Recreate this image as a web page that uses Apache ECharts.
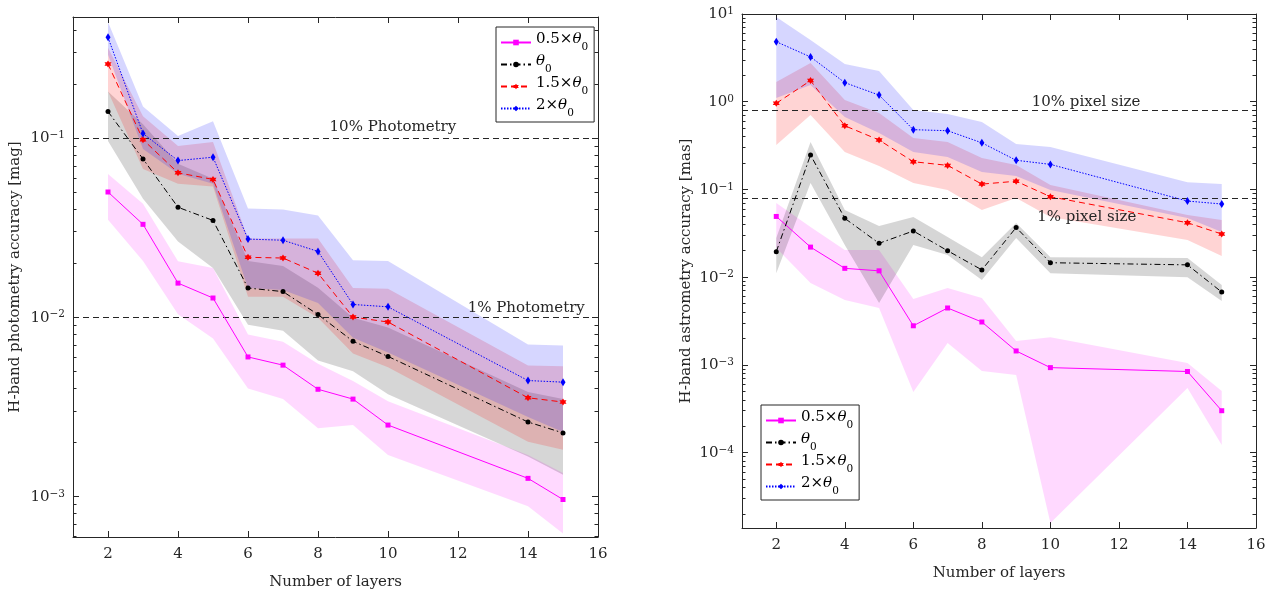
<!DOCTYPE html>
<html><head><meta charset="utf-8">
<script src="https://cdn.jsdelivr.net/npm/echarts@6/dist/echarts.min.js"></script>
<style>html,body{margin:0;padding:0;background:#fff}#c{width:1279px;height:595px}</style>
</head><body><div id="c"></div>
<script>
// ---------------- data ----------------
const layers = [2, 3, 4, 5, 6, 7, 8, 9, 10, 14, 15];
const seriesNames = ['0.5×θ0', 'θ0', '1.5×θ0', '2×θ0'];
const xTicks = [2, 4, 6, 8, 10, 12, 14, 16];
const photDecades = [-3, -2, -1];
const astroDecades = [-4, -3, -2, -1, 0, 1];

// H-band photometry accuracy [mag]
const phot05   = [0.050, 0.033, 0.0155, 0.0128, 0.0060, 0.0054, 0.00396, 0.00349, 0.0025, 0.00126, 0.00096];
const phot05Hi = [0.063, 0.043, 0.0205, 0.0188, 0.0080, 0.0073, 0.0055, 0.0044, 0.0034, 0.0017, 0.00135];
const phot05Lo = [0.035, 0.0206, 0.0104, 0.0076, 0.0040, 0.0035, 0.0024, 0.0025, 0.0017, 0.00088, 0.00062];
const phot10   = [0.1406, 0.0765, 0.0411, 0.0347, 0.01455, 0.0139, 0.01035, 0.00734, 0.00604, 0.0026, 0.00226];
const phot10Hi = [0.182, 0.1196, 0.0718, 0.0593, 0.0206, 0.0193, 0.0146, 0.00993, 0.00875, 0.00382, 0.00349];
const phot10Lo = [0.0962, 0.0459, 0.0265, 0.0188, 0.00908, 0.00841, 0.00574, 0.00499, 0.00372, 0.00167, 0.00132];
const phot15   = [0.259, 0.098, 0.064, 0.0588, 0.0216, 0.0214, 0.0176, 0.01002, 0.0094, 0.00355, 0.00336];
const phot15Hi = [0.319, 0.1324, 0.0903, 0.095, 0.0275, 0.0275, 0.0275, 0.01456, 0.0144, 0.00538, 0.00532];
const phot15Lo = [0.182, 0.0673, 0.0556, 0.0536, 0.0130, 0.0130, 0.00993, 0.00628, 0.00525, 0.00202, 0.00182];
const phot20   = [0.365, 0.106, 0.0749, 0.0782, 0.0273, 0.0269, 0.0233, 0.01178, 0.01143, 0.00443, 0.00434];
const phot20Hi = [0.445, 0.150, 0.1026, 0.124, 0.0405, 0.0399, 0.037, 0.0208, 0.0206, 0.00705, 0.00695];
const phot20Lo = [0.292, 0.0869, 0.0633, 0.0556, 0.01456, 0.0142, 0.0120, 0.00769, 0.00635, 0.00277, 0.00229];
const photRefLines = [0.1, 0.01];
const photNotes = ['10% Photometry', '1% Photometry'];

// H-band astrometry accuracy [mas]
const astro05   = [0.0492, 0.022, 0.0126, 0.0118, 0.00279, 0.00445, 0.00308, 0.00144, 0.00093, 0.00084, 0.0003];
const astro05Hi = [0.070, 0.0373, 0.0204, 0.0204, 0.00563, 0.0075, 0.00578, 0.00187, 0.00207, 0.00105, 0.000503];
const astro05Lo = [0.0215, 0.00857, 0.00548, 0.00445, 0.00049, 0.00177, 0.00085, 0.000765, 0.0000157, 0.000544, 0.000122];
const astro10   = [0.0195, 0.247, 0.0468, 0.0243, 0.0336, 0.020, 0.0121, 0.0368, 0.0146, 0.0138, 0.00676];
const astro10Hi = [0.0279, 0.347, 0.0582, 0.0383, 0.0484, 0.0286, 0.0169, 0.0414, 0.0169, 0.0165, 0.00813];
const astro10Lo = [0.0111, 0.118, 0.0232, 0.00507, 0.0232, 0.0179, 0.00927, 0.0279, 0.0111, 0.0100, 0.00534];
const astro15   = [0.96, 1.74, 0.532, 0.366, 0.207, 0.188, 0.115, 0.124, 0.0826, 0.0417, 0.031];
const astro15Hi = [1.68, 2.76, 1.046, 0.743, 0.386, 0.347, 0.228, 0.19, 0.112, 0.051, 0.0448];
const astro15Lo = [0.321, 0.705, 0.267, 0.185, 0.118, 0.0984, 0.0582, 0.0798, 0.0484, 0.0265, 0.0174];
const astro20   = [4.83, 3.24, 1.65, 1.19, 0.48, 0.467, 0.34, 0.215, 0.193, 0.0737, 0.0682];
const astro20Hi = [9.25, 5.05, 2.69, 2.24, 0.804, 0.724, 0.587, 0.33, 0.304, 0.121, 0.115];
const astro20Lo = [1.10, 1.55, 0.67, 0.44, 0.267, 0.234, 0.158, 0.142, 0.0984, 0.0472, 0.0327];
const astroRefLines = [0.8, 0.08];
const astroNotes = ['10% pixel size', '1% pixel size'];

// ---------------- styles / layout ----------------
const FONT = 'DejaVu Serif';
const AX = '#262626';
const lineColors = ['#FF00FF', '#000000', '#FF0000', '#0000FF'];
const bandColors = ['rgba(255,0,255,0.15)', 'rgba(0,0,0,0.16)', 'rgba(255,0,0,0.17)', 'rgba(0,0,255,0.16)'];
const lineTypes = ['solid', [6, 3, 1.5, 3], [6, 4], [1.5, 1.5]];
const HEX = 'path://M0,-10L2.9,-5L8.66,-5L5.8,0L8.66,5L2.9,5L0,10L-2.9,5L-8.66,5L-5.8,0L-8.66,-5L-2.9,-5Z';
const symbols = ['rect', 'circle', HEX, 'diamond'];
const symbolSizes = [5, 5, 7, [5, 8]];

const L = Math.log10;
const panels = [
  { grid: { left: 73, top: 17, width: 525, height: 524 }, yMin: -3.227, yMax: -0.324, decades: photDecades,
    yName: 'H-band photometry accuracy [mag]', yNameGap: 50,
    lines: [phot05, phot10, phot15, phot20], his: [phot05Hi, phot10Hi, phot15Hi, phot20Hi], los: [phot05Lo, phot10Lo, phot15Lo, phot20Lo],
    refs: photRefLines, notes: photNotes, noteAt: [[10.14, -0.939], [13.95, -1.95]],
    legend: { left: 496, top: 27 } },
  { grid: { left: 742, top: 14, width: 514, height: 514 }, yMin: -4.86, yMax: 1, decades: astroDecades,
    yName: 'H-band astrometry accuracy [mas]', yNameGap: 48,
    lines: [astro05, astro10, astro15, astro20], his: [astro05Hi, astro10Hi, astro15Hi, astro20Hi], los: [astro05Lo, astro10Lo, astro15Lo, astro20Lo],
    refs: astroRefLines, notes: astroNotes, noteAt: [[11.04, -0.01], [11.06, -1.32]],
    legend: { left: 761, top: 405 } }
];

function decadeLabel(v) {
  const e = Math.round(v);
  return '{b|10}{p|' + (e < 0 ? '−' : '') + Math.abs(e) + '}';
}
const tickRich = {
  b: { fontFamily: FONT, fontSize: 15, color: '#262626', lineHeight: 16, verticalAlign: 'bottom' },
  p: { fontFamily: FONT, fontSize: 10.5, color: '#262626', lineHeight: 11, verticalAlign: 'top' }
};
const nameRich = {
  t: { fontFamily: FONT, fontSize: 15, color: '#000', lineHeight: 21, verticalAlign: 'top' },
  i: { fontFamily: FONT, fontSize: 15, fontStyle: 'italic', color: '#000', lineHeight: 21, verticalAlign: 'top' },
  s: { fontFamily: FONT, fontSize: 10.5, color: '#000', lineHeight: 11, verticalAlign: 'bottom' }
};
function legendLabel(n) {
  const k = seriesNames.indexOf(n);
  const pre = ['0.5×', '', '1.5×', '2×'][k];
  return (pre ? '{t|' + pre + '}' : '') + '{i|θ}{s|0}';
}

function bandRenderer(hiArr, loArr, fill) {
  return function (params, api) {
    if (params.dataIndex !== 0) return null;
    const up = layers.map((x, i) => api.coord([x, L(hiArr[i])]));
    const dn = layers.map((x, i) => api.coord([x, L(loArr[i])])).reverse();
    return { type: 'polygon', shape: { points: up.concat(dn) }, style: { fill: fill, stroke: null } };
  };
}

const grids = [], xAxes = [], yAxes = [], series = [], legends = [];
panels.forEach((P, g) => {
  grids.push(Object.assign({}, P.grid, { containLabel: false }));
  const minors = [];
  for (let k = -6; k <= 2; k++) for (let m = 2; m <= 9; m++) {
    const v = k + L(m); if (v > P.yMin && v < P.yMax) minors.push(v);
  }
  const majors = P.decades;
  const axLine = { show: true, onZero: false, lineStyle: { color: AX, width: 1 } };
  const noLine = { show: false, onZero: false };
  xAxes.push({ type: 'value', gridIndex: g, min: 1, max: 16, position: 'bottom',
    axisLine: axLine, splitLine: { show: false },
    axisTick: { show: true, inside: true, length: 6, customValues: xTicks, lineStyle: { color: AX } },
    axisLabel: { customValues: xTicks, margin: 10, fontFamily: FONT, fontSize: 15, color: '#262626' },
    name: 'Number of layers', nameLocation: 'middle', nameGap: 38,
    nameTextStyle: { fontFamily: FONT, fontSize: 15, color: '#262626' } });
  xAxes.push({ type: 'value', gridIndex: g, min: 1, max: 16, position: 'top',
    axisLine: axLine, splitLine: { show: false },
    axisTick: { show: true, inside: true, length: 6, customValues: xTicks, lineStyle: { color: AX } },
    axisLabel: { show: false } });
  yAxes.push({ type: 'value', gridIndex: g, min: P.yMin, max: P.yMax, position: 'left',
    axisLine: axLine, splitLine: { show: false },
    axisTick: { show: true, inside: true, length: 6, customValues: majors, lineStyle: { color: AX } },
    axisLabel: { customValues: majors, margin: 8, formatter: decadeLabel, rich: tickRich },
    name: P.yName, nameLocation: 'middle', nameGap: P.yNameGap, nameRotate: 90,
    nameTextStyle: { fontFamily: FONT, fontSize: 15, color: '#262626' } });
  yAxes.push({ type: 'value', gridIndex: g, min: P.yMin, max: P.yMax, position: 'left',
    axisLine: noLine, splitLine: { show: false },
    axisTick: { show: true, inside: true, length: 3.5, customValues: minors, lineStyle: { color: AX } },
    axisLabel: { show: false } });
  yAxes.push({ type: 'value', gridIndex: g, min: P.yMin, max: P.yMax, position: 'right',
    axisLine: axLine, splitLine: { show: false },
    axisTick: { show: true, inside: true, length: 6, customValues: majors, lineStyle: { color: AX } },
    axisLabel: { show: false } });
  yAxes.push({ type: 'value', gridIndex: g, min: P.yMin, max: P.yMax, position: 'right',
    axisLine: noLine, splitLine: { show: false },
    axisTick: { show: true, inside: true, length: 3.5, customValues: minors, lineStyle: { color: AX } },
    axisLabel: { show: false } });

  const xi = 2 * g, yi = 4 * g;
  [0, 1, 2, 3].forEach(s => {
    series.push({ type: 'custom', name: 'band' + g + s, xAxisIndex: xi, yAxisIndex: yi, silent: true, z: 1,
      clip: true, encode: { x: 0, y: 1 },
      data: layers.map((x, i) => [x, L(P.lines[s][i])]),
      renderItem: bandRenderer(P.his[s], P.los[s], bandColors[s]) });
  });
  [0, 1, 2, 3].forEach(s => {
    const ser = { type: 'line', name: seriesNames[s], xAxisIndex: xi, yAxisIndex: yi,
      data: layers.map((x, i) => [x, L(P.lines[s][i])]),
      symbol: symbols[s], symbolSize: symbolSizes[s], showSymbol: true,
      lineStyle: { color: lineColors[s], width: 1, type: lineTypes[s] },
      itemStyle: { color: lineColors[s], borderWidth: 0 }, z: 5 };
    if (s === 1) {
      ser.markLine = { silent: true, symbol: ['none', 'none'], label: { show: false },
        lineStyle: { color: '#262626', type: [6, 4], width: 1 }, z: 4,
        data: P.refs.map(v => ({ yAxis: L(v) })) };
      ser.markPoint = { silent: true, symbol: 'circle', symbolSize: 0,
        label: { show: true, position: 'inside', formatter: '{b}', fontFamily: FONT, fontSize: 15, color: '#262626' },
        data: P.notes.map((t, k) => ({ name: t, coord: P.noteAt[k] })) };
    }
    series.push(ser);
  });
  legends.push({ data: seriesNames, orient: 'vertical', left: P.legend.left, top: P.legend.top,
    backgroundColor: '#fff', borderColor: '#262626', borderWidth: 1, borderRadius: 0,
    padding: [5, 6, 3, 4], itemGap: 1, itemWidth: 30, itemHeight: 7, selectedMode: false,
    formatter: legendLabel, textStyle: { fontFamily: FONT, fontSize: 15, color: '#000', rich: nameRich } });
});

const chart = echarts.init(document.getElementById('c'), null, { renderer: 'canvas' });
chart.setOption({
  animation: false, backgroundColor: '#fff',
  grid: grids, xAxis: xAxes, yAxis: yAxes, series: series, legend: legends
});
</script></body></html>
